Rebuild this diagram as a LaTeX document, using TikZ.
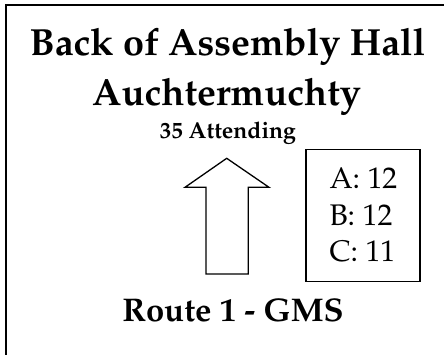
\documentclass[tikz,border=0pt]{standalone}
\usepackage[T1]{fontenc}
\usepackage{mathpazo}
\begin{document}
\begin{tikzpicture}[x=1pt,y=-1pt,
  frame/.style={draw=black,line width=1.8pt},
  boxline/.style={draw=black,line width=1.4pt},
  arrowline/.style={draw=black,line width=1.3pt,line join=miter},
  bigtitle/.style={font=\fontsize{37.8}{44}\selectfont\bfseries,inner sep=0pt,anchor=base},
  routetitle/.style={font=\fontsize{32.8}{39}\selectfont\bfseries,inner sep=0pt,anchor=base},
  smalltitle/.style={font=\fontsize{23}{27}\selectfont\bfseries,inner sep=0pt,anchor=base},
  count/.style={font=\fontsize{29.8}{35}\selectfont,inner sep=0pt,anchor=base west}]
\useasboundingbox (0,0) rectangle (444,354);
\begin{scope}
\clip (0,0) rectangle (444,354);
\draw[frame] (5.6,4.9) rectangle (470,380);
\end{scope}
\node[bigtitle] (t1) at (227.5,55) {Back of Assembly Hall};
\node[bigtitle] (t2) at (226.5,105) {Auchtermuchty};
\node[smalltitle] (att) at (228,138.3) {35 Attending};
\draw[arrowline] (226.7,158.3) -- (269,187.3) -- (248.3,187.3) -- (248.3,274)
  -- (206,274) -- (206,187.3) -- (185,187.3) -- cycle;
\node[boxline,minimum width=114pt,minimum height=132pt,inner sep=0pt] (box) at (363,215.5) {};
\node[count] (a) at (329.3,188.3) {A: 12};
\node[count] (b) at (329.3,225) {B: 12};
\node[count] (c) at (329.3,261.7) {C: 11};
\node[routetitle] (route) at (233,321.7) {Route 1 - GMS};
\end{tikzpicture}
\end{document}
